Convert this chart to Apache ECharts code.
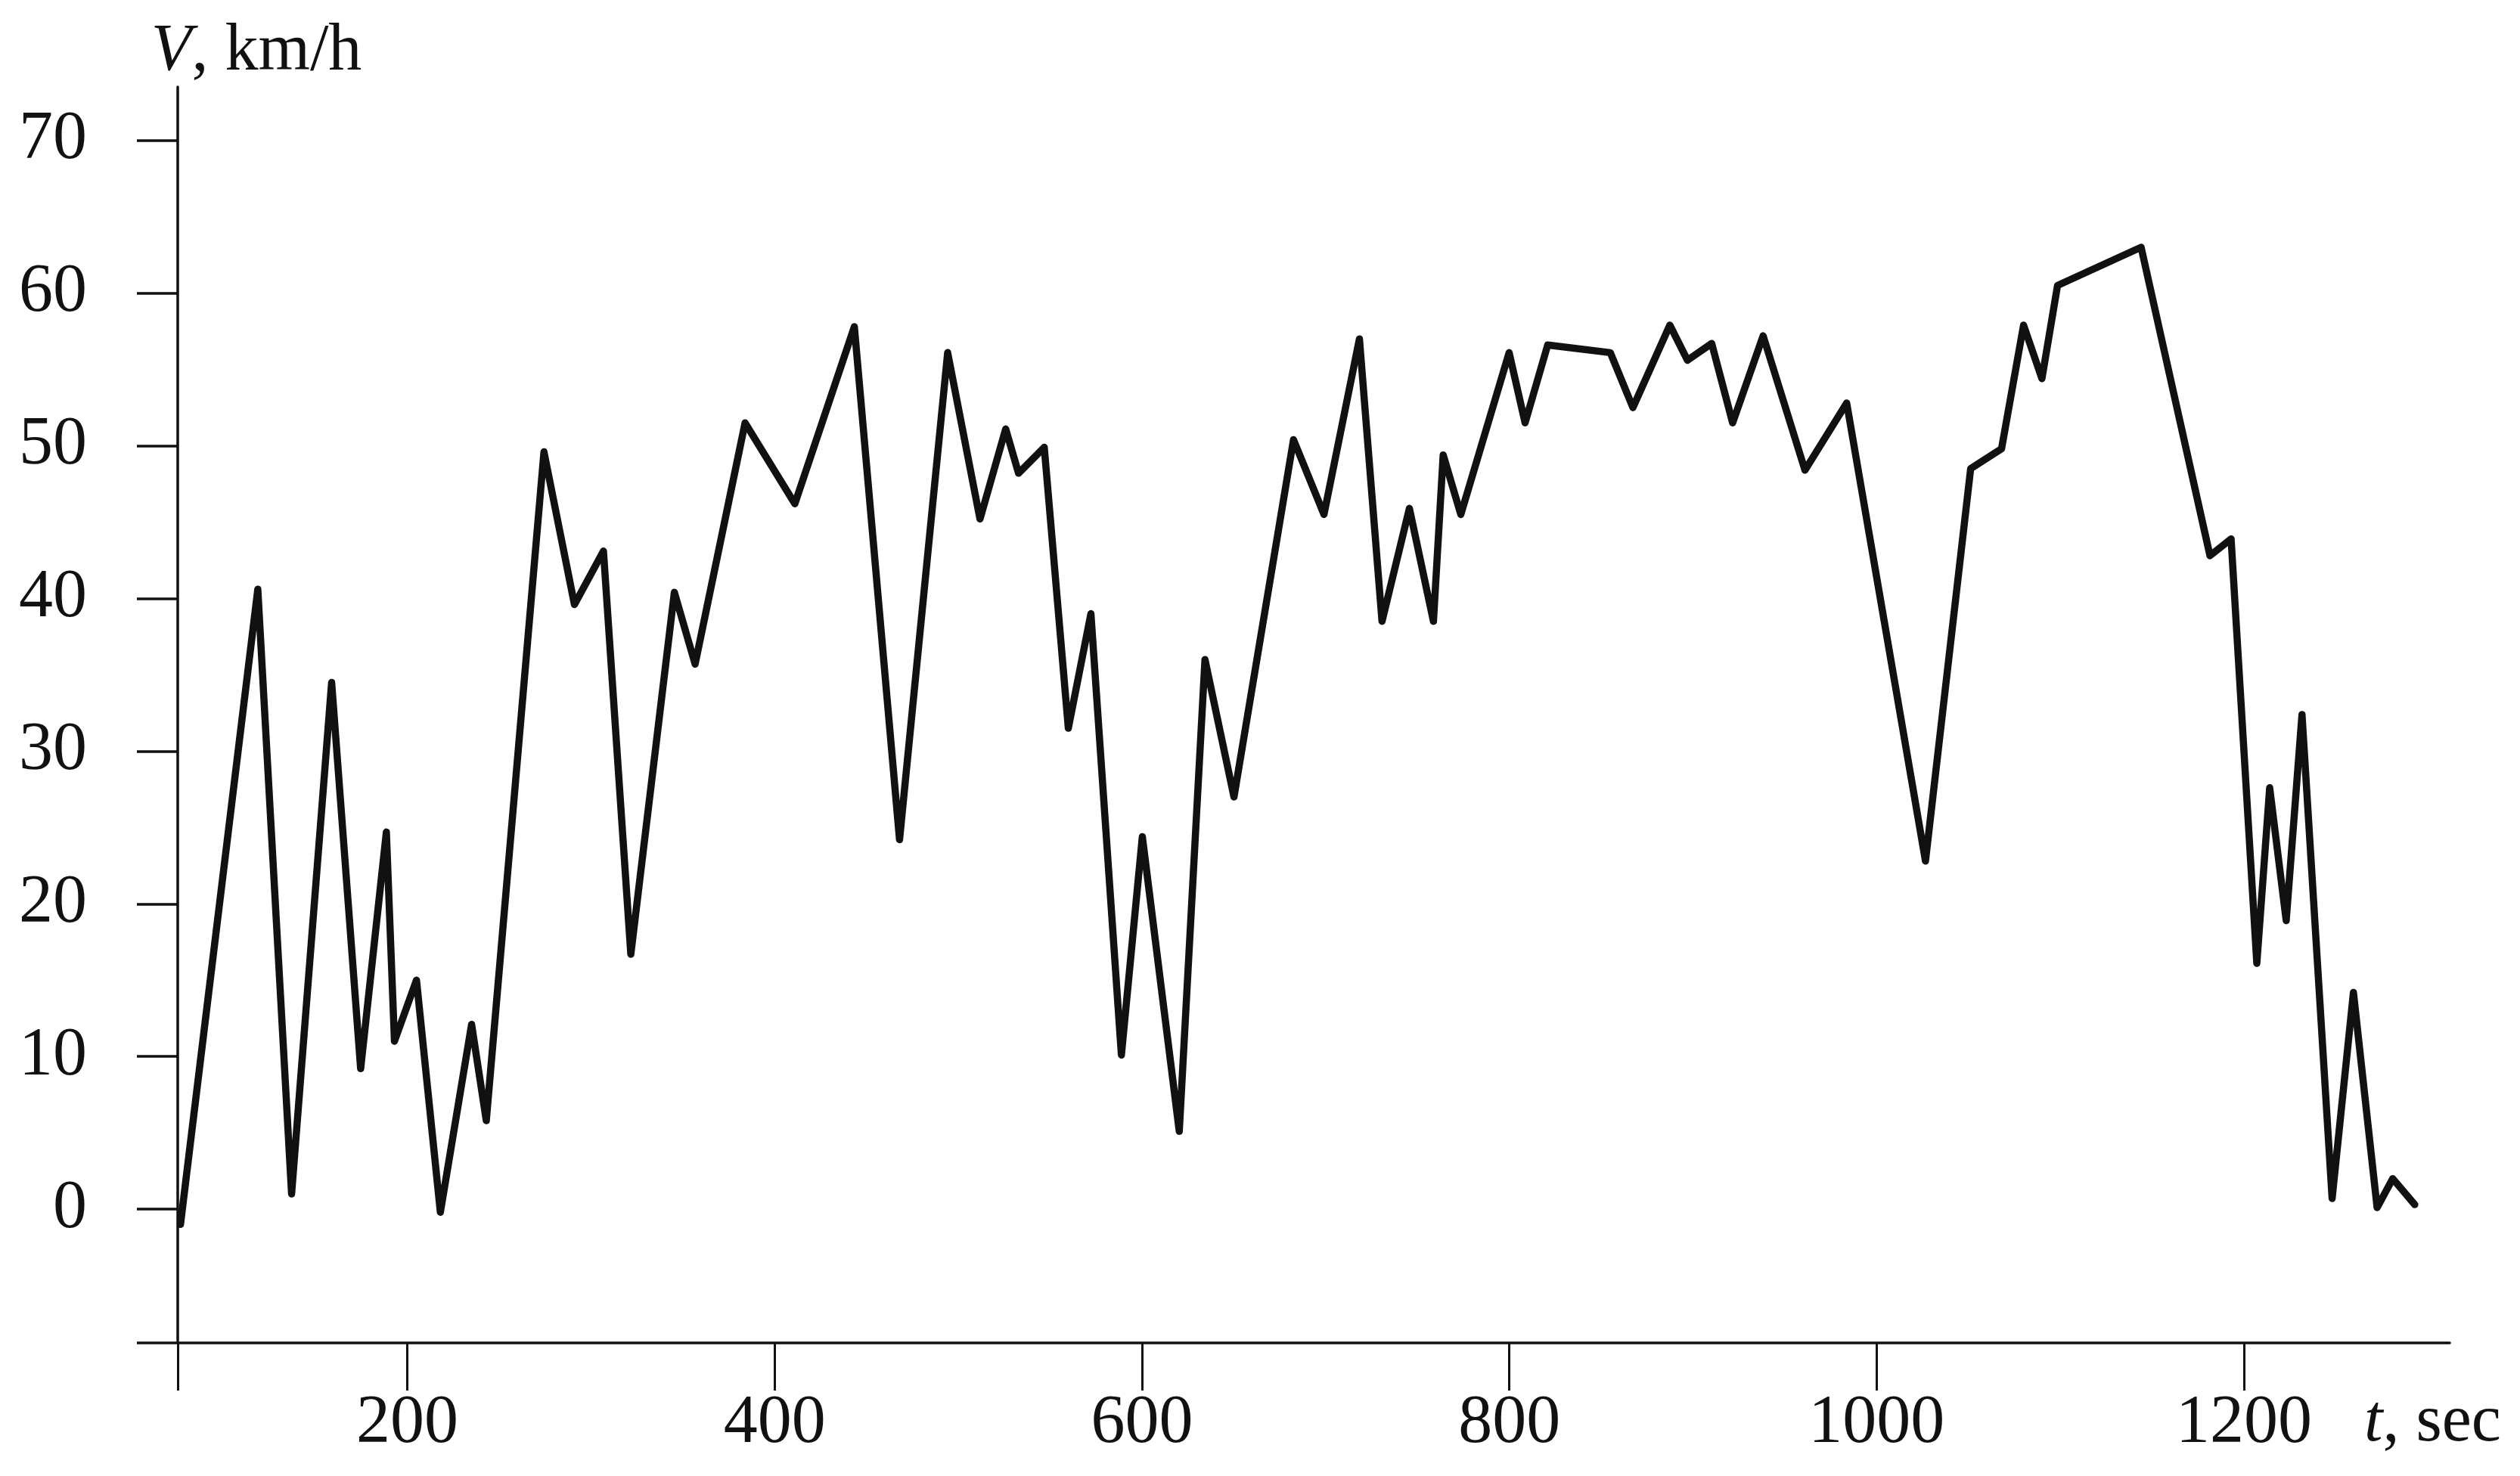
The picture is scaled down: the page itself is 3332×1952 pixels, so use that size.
<!DOCTYPE html>
<html>
<head>
<meta charset="utf-8">
<script src="https://cdn.jsdelivr.net/npm/echarts@6/dist/echarts.min.js"></script>
<style>
  html, body { margin: 0; padding: 0; background: #ffffff; }
  #chart { width: 3332px; height: 1952px; }
</style>
</head>
<body>
<div id="chart"></div>
<script>
// Time, sec
const times = [76.5, 118.6, 137, 158.8, 174.6, 188.6, 193, 205, 218, 235, 243, 274.4, 291, 306.8, 321.7, 345.4, 356.7, 383.9, 411, 443.4, 468, 494.2, 511.8, 525.8, 532.8, 546.8, 559.9, 572.2, 588.8, 600.2, 620.3, 634.3, 650.1, 682.5, 699.1, 718.4, 730.7, 745.6, 758.7, 764, 773.6, 799.9, 808.6, 820.9, 855, 867.3, 887.4, 897, 910.2, 921.6, 938.2, 961, 983.7, 1026.6, 1051.2, 1068, 1080, 1090, 1098.5, 1144, 1181.5, 1193, 1207, 1214, 1223, 1231.6, 1248, 1259.6, 1272.5, 1281, 1293];
// Speed, km/h
const speeds = [-1.0, 40.6, 1.0, 34.5, 9.2, 24.7, 11.0, 15.0, -0.2, 12.1, 5.8, 49.6, 39.6, 43.1, 16.7, 40.4, 35.7, 51.5, 46.2, 57.8, 24.2, 56.1, 45.2, 51.1, 48.2, 49.9, 31.5, 39.0, 10.1, 24.4, 5.1, 36.0, 27.0, 50.4, 45.5, 57.0, 38.5, 45.9, 38.5, 49.4, 45.5, 56.1, 51.5, 56.6, 56.1, 52.5, 57.9, 55.6, 56.7, 51.5, 57.2, 48.4, 52.8, 22.8, 48.5, 49.8, 57.9, 54.4, 60.5, 63.0, 42.8, 43.9, 16.1, 27.6, 18.9, 32.4, 0.7, 14.2, 0.1, 2.0, 0.3];
// Tick labels
const xTickLabels = [200, 400, 600, 800, 1000, 1200];
const yTickLabels = [0, 10, 20, 30, 40, 50, 60, 70];

const X_MIN = 75, X_MAX = 1312;
const Y_MIN = -8.76, Y_MAX = 73.5;

const seriesData = times.map((t, i) => [t, speeds[i]]);

const ink = '#111111';
const font = 'Liberation Serif';

const chart = echarts.init(document.getElementById('chart'), null, { renderer: 'canvas' });
chart.setOption({
  backgroundColor: '#ffffff',
  animation: false,
  grid: { left: 235, right: 93, top: 115, bottom: 176, containLabel: false },
  xAxis: {
    type: 'value',
    min: X_MIN,
    max: X_MAX,
    name: '{i|t}, sec',
    nameLocation: 'end',
    nameGap: -113,
    nameTextStyle: {
      fontFamily: font, fontSize: 88, color: ink,
      align: 'left', verticalAlign: 'middle',
      padding: [212, 0, 0, 0],
      rich: { i: { fontFamily: font, fontSize: 88, color: ink, fontStyle: 'italic' } }
    },
    axisLine: { show: true, onZero: false, lineStyle: { color: ink, width: 3.5 } },
    axisTick: {
      show: true, inside: false, length: 63,
      customValues: [X_MIN].concat(xTickLabels),
      lineStyle: { color: ink, width: 3 }
    },
    axisLabel: {
      show: true, margin: 62, customValues: xTickLabels,
      formatter: (v) => String(v),
      fontFamily: font, fontSize: 90, color: ink
    },
    splitLine: { show: false }
  },
  yAxis: {
    type: 'value',
    min: Y_MIN,
    max: Y_MAX,
    name: '{i|V}, km/h',
    nameLocation: 'end',
    nameGap: 2,
    nameTextStyle: {
      fontFamily: font, fontSize: 88, color: ink,
      align: 'center', verticalAlign: 'bottom',
      padding: [0, 0, 0, 208],
      rich: { i: { fontFamily: font, fontSize: 88, color: ink, fontStyle: 'italic' } }
    },
    axisLine: { show: true, onZero: false, lineStyle: { color: ink, width: 3.5 } },
    axisTick: {
      show: true, inside: false, length: 54,
      customValues: [Y_MIN].concat(yTickLabels),
      lineStyle: { color: ink, width: 3.5 }
    },
    axisLabel: {
      show: true, margin: 120, customValues: yTickLabels,
      formatter: (v) => String(v),
      fontFamily: font, fontSize: 90, color: ink, align: 'right'
    },
    splitLine: { show: false }
  },
  series: [{
    type: 'line',
    data: seriesData,
    showSymbol: false,
    symbol: 'none',
    clip: false,
    lineStyle: { color: ink, width: 9.5, join: 'round', cap: 'round' }
  }]
});
</script>
</body>
</html>
